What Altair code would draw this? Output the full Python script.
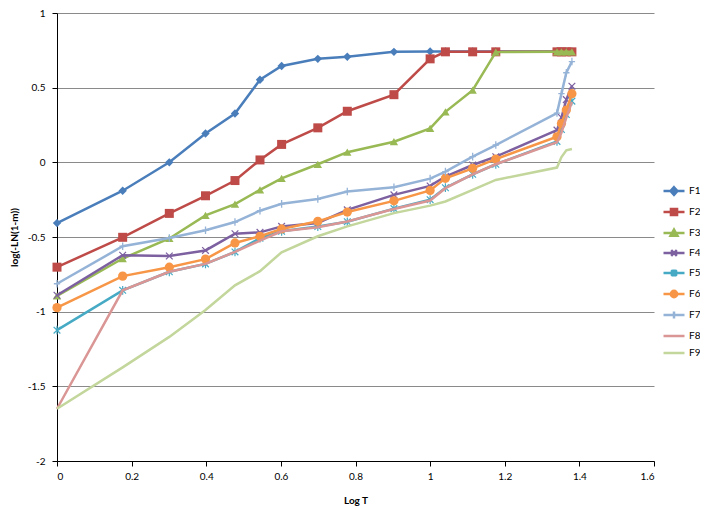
import altair as alt
import pandas as pd

# ---- data ----
log_t = [0, 0.176, 0.301, 0.398, 0.477, 0.544, 0.602, 0.699, 0.778, 0.903,
         1.0, 1.041, 1.114, 1.176, 1.34, 1.352, 1.365, 1.38]

F1 = [-0.407, -0.19, 0.0, 0.193, 0.327, 0.553, 0.645, 0.693, 0.707, 0.74,
      0.743, 0.743, 0.743, 0.743, 0.743, 0.743, 0.743, 0.743]
F2 = [-0.702, -0.502, -0.342, -0.224, -0.122, 0.016, 0.12, 0.231, 0.342, 0.453,
      0.693, 0.74, 0.74, 0.74, 0.74, 0.74, 0.74, 0.74]
F3 = [-0.895, -0.644, -0.51, -0.355, -0.28, -0.184, -0.107, -0.013, 0.068, 0.138,
      0.227, 0.338, 0.483, 0.738, 0.74, 0.74, 0.74, 0.74]
F4 = [-0.89, -0.622, -0.627, -0.59, -0.478, -0.469, -0.429, -0.406, -0.318, -0.218,
      -0.158, -0.095, -0.018, 0.038, 0.216, 0.3, 0.42, 0.51]
F5 = [-1.124, -0.857, -0.733, -0.68, -0.6, -0.508, -0.462, -0.43, -0.398, -0.31,
      -0.25, -0.17, -0.08, -0.013, 0.14, 0.22, 0.32, 0.41]
F6 = [-0.973, -0.762, -0.702, -0.648, -0.54, -0.495, -0.446, -0.395, -0.333, -0.258,
      -0.188, -0.107, -0.04, 0.022, 0.171, 0.26, 0.35, 0.46]
F7 = [-0.813, -0.562, -0.507, -0.455, -0.4, -0.324, -0.278, -0.246, -0.195, -0.167,
      -0.109, -0.062, 0.038, 0.116, 0.33, 0.46, 0.6, 0.675]
F8 = [-1.65, -0.857, -0.733, -0.68, -0.6, -0.524, -0.462, -0.435, -0.396, -0.313,
      -0.256, -0.173, -0.08, -0.013, 0.135, 0.2, 0.3, 0.405]
F9 = [-1.65, -1.373, -1.169, -0.989, -0.824, -0.729, -0.602, -0.495, -0.429, -0.34,
      -0.29, -0.262, -0.184, -0.118, -0.035, 0.035, 0.08, 0.089]

names = ["F1", "F2", "F3", "F4", "F5", "F6", "F7", "F8", "F9"]
series = [F1, F2, F3, F4, F5, F6, F7, F8, F9]
x_ticks = [0, 0.2, 0.4, 0.6, 0.8, 1, 1.2, 1.4, 1.6]
y_ticks = [-2, -1.5, -1, -0.5, 0, 0.5, 1]

# ---- styles ----
colors = ["#4A7EBB", "#BE4B48", "#98B954", "#7D60A0", "#46AAC5",
          "#F79646", "#95B3D7", "#D99694", "#C3D69B"]
X_PATH = "M-1,-1L1,1M-1,1L1,-1"
AST_PATH = "M-1,-1L1,1M-1,1L1,-1M0,-1.3L0,1.3"
PLUS_PATH = "M-1,0H1M0,-1.2V1.2"
markers = {
    "F1": dict(shape="diamond", filled=True, size=70),
    "F2": dict(shape="square", filled=True, size=81),
    "F3": dict(shape="triangle-up", filled=True, size=70),
    "F4": dict(shape=X_PATH, filled=False, size=45, strokeWidth=1.2),
    "F5": dict(shape=AST_PATH, filled=False, size=45, strokeWidth=1.2),
    "F6": dict(shape="circle", filled=True, size=85),
    "F7": dict(shape=PLUS_PATH, filled=False, size=40, strokeWidth=1.3),
}
legend_paths = [
    "M-1,0H1M0,-0.36L0.33,0L0,0.36L-0.33,0Z",
    "M-1,0H1M-0.29,-0.29H0.29V0.29H-0.29Z",
    "M-1,0H1M0,-0.33L0.33,0.26H-0.33Z",
    "M-1,0H1M-0.27,-0.27L0.27,0.27M-0.27,0.27L0.27,-0.27",
    "M-1,0H1M-0.27,-0.27L0.27,0.27M-0.27,0.27L0.27,-0.27M0,-0.33V0.33",
    "M-1,0H1M0.3,0A0.3,0.3,0,1,1,-0.3,0A0.3,0.3,0,1,1,0.3,0Z",
    "M-1,0H1M0,-0.33V0.33",
    "M-1,0H1",
    "M-1,0H1",
]
legend_fills = [colors[0], colors[1], colors[2], "transparent", "transparent",
                colors[5], "transparent", "transparent", "transparent"]

rows = []
for n, vals in zip(names, series):
    for xv, yv in zip(log_t, vals):
        rows.append({"series": n, "logT": xv, "val": yv})
df = pd.DataFrame(rows)

FONT = "Lato"
x_enc = alt.X("logT:Q", title="Log T",
              scale=alt.Scale(domain=[0, 1.6], nice=False, zero=False),
              axis=alt.Axis(values=x_ticks, grid=False, labelExpr="toString(datum.value)",
                            domainColor="#000000", tickColor="#000000", tickSize=5,
                            labelPadding=5, titlePadding=14, labelFontSize=10,
                            titleFontSize=10, titleFontWeight="bold",
                            labelColor="#000000", titleColor="#000000",
                            labelFont=FONT, titleFont=FONT))
y_enc = alt.Y("val:Q", title="log(-LN(1-m))",
              scale=alt.Scale(domain=[-2, 1], nice=False, zero=False),
              axis=alt.Axis(values=y_ticks, grid=True, gridColor="#8a8a8a", gridWidth=1,
                            labelExpr="toString(datum.value)",
                            domainColor="#000000", tickColor="#000000", tickSize=5,
                            labelPadding=7, titlePadding=8, labelFontSize=10,
                            titleFontSize=10, titleFontWeight="bold",
                            labelColor="#000000", titleColor="#000000",
                            labelFont=FONT, titleFont=FONT))

layers = []
for n, c in zip(names, colors):
    base = alt.Chart(df).transform_filter(alt.datum.series == n)
    layers.append(base.mark_line(color=c, strokeWidth=2.5).encode(x=x_enc, y=y_enc))
    if n in markers:
        m = dict(markers[n])
        sw = m.pop("strokeWidth", 1)
        layers.append(base.mark_point(color=c, opacity=1, strokeWidth=sw, **m)
                      .encode(x=x_enc, y=y_enc))

leg = alt.Legend(title=None, orient="none", legendX=605, legendY=166,
                 symbolSize=441, symbolStrokeWidth=2.5, labelFontSize=10,
                 labelFont=FONT, labelColor="#000000", labelOffset=3,
                 rowPadding=-2, padding=0)
legend_df = pd.DataFrame({"series": names})
legend_layer = (alt.Chart(legend_df)
                .transform_filter("datum.series == 'none'")
                .mark_point(opacity=1, strokeWidth=2.5)
                .encode(shape=alt.Shape("series:N", scale=alt.Scale(domain=names, range=legend_paths), legend=leg),
                        fill=alt.Fill("series:N", scale=alt.Scale(domain=names, range=legend_fills), legend=leg),
                        stroke=alt.Stroke("series:N", scale=alt.Scale(domain=names, range=colors), legend=leg)))
layers.append(legend_layer)

chart = (alt.layer(*layers)
         .properties(width=597, height=448,
                     autosize=alt.AutoSizeParams(type="none"),
                     padding={"left": 49, "top": 5, "right": 46, "bottom": 45},
                     background="#ffffff")
         .configure_view(stroke=None))

chart.save("out.html", embed_options={"renderer": "svg", "actions": False})
